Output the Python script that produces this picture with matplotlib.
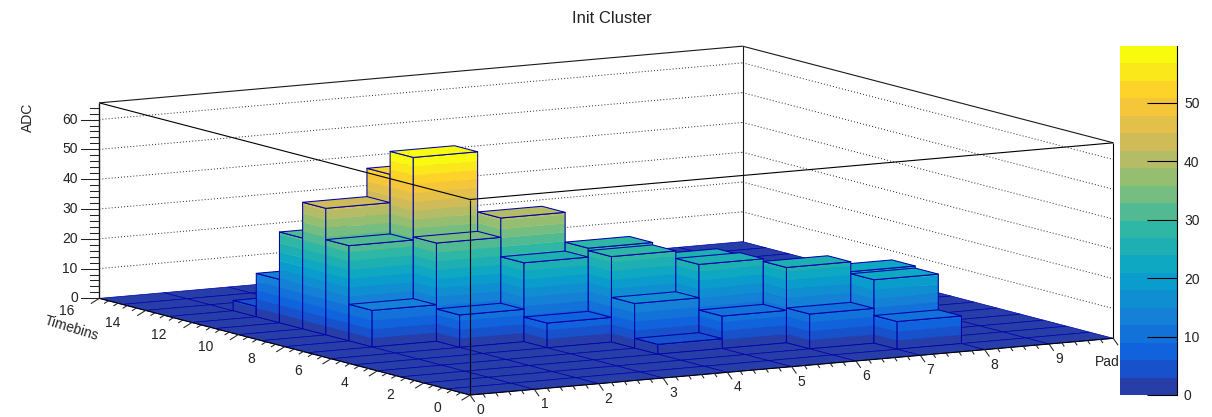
"""Init Cluster: ROOT style lego2 plot, drawn with a fixed parallel projection."""

import matplotlib
matplotlib.use("Agg")
import matplotlib.pyplot as plt
from matplotlib.collections import PolyCollection
from matplotlib.colors import LinearSegmentedColormap

plt.rcParams["font.family"] = ["Liberation Sans", "DejaVu Sans"]

# ---------------------------------------------------------------------------
# Data: only non-empty bins, everything else is 0
# ---------------------------------------------------------------------------

N_PADS = 10
N_TIMEBINS = 16

bin_pad = [1, 1, 1, 1, 1, 1, 2, 2, 2, 2, 3, 3, 3, 4, 4, 4, 4, 5, 5, 5, 6, 6, 7, 7, 7]
bin_tb  = [7, 8, 9, 10, 11, 12, 6, 7, 8, 9, 5, 6, 7, 3, 4, 5, 6, 3, 4, 5, 2, 3, 1, 2, 3]
bin_adc = [12.3, 32, 42.5, 30.5, 14.6, 3.5, 10.9, 33, 59.7, 52, 8.3, 26.5, 39.5,
           3.3, 15, 28.7, 29.5, 10.9, 26.2, 25.5, 11.7, 25.3, 9.3, 21.3, 22]

z_max = 59.7
n_levels = 20
z_top = 65.6

pad_ticks = [0, 1, 2, 3, 4, 5, 6, 7, 8, 9]
tb_ticks = [0, 2, 4, 6, 8, 10, 12, 14, 16]
z_ticks = [0, 10, 20, 30, 40, 50, 60]
cbar_ticks = [0, 10, 20, 30, 40, 50]

# kBird palette stops
bird = [(0.2082, 0.1664, 0.5293), (0.0592, 0.3599, 0.8684), (0.0780, 0.5041, 0.8385),
        (0.0232, 0.6419, 0.7914), (0.1802, 0.7178, 0.6425), (0.5301, 0.7492, 0.4662),
        (0.8186, 0.7328, 0.3499), (0.9956, 0.7862, 0.1968), (0.9764, 0.9832, 0.0539)]
cmap = LinearSegmentedColormap.from_list("bird", bird)
level_colors = [cmap((i + 0.99) / n_levels) for i in range(n_levels)]
level_step = z_max / n_levels

EDGE = "#0000a8"
AXIS = "#1a1a1a"
TEXT = "#222222"
FONT = 10

# ---------------------------------------------------------------------------
# Projection: pad, timebin, ADC to figure pixels
# ---------------------------------------------------------------------------

def proj(p, t, z=0.0):
    return (470.0 + 64.33 * p - 23.17 * t, 395.0 - 5.67 * p - 6.04 * t - 2.98 * z)

fig = plt.figure(figsize=(12.12, 4.17), dpi=100)
ax = fig.add_axes([0, 0, 1, 1])
ax.set_xlim(0, 1212)
ax.set_ylim(417, 0)
ax.axis("off")

# ---------------------------------------------------------------------------
# Back walls with dotted grid
# ---------------------------------------------------------------------------

def line3d(a, b, **kw):
    pa, pb = proj(*a), proj(*b)
    ax.plot([pa[0], pb[0]], [pa[1], pb[1]], solid_capstyle="butt", **kw)

back_kw = dict(color=AXIS, lw=0.8, zorder=1)
line3d((0, 16, z_top), (10, 16, z_top), **back_kw)
line3d((10, 16, z_top), (10, 0, z_top), **back_kw)
line3d((10, 16, 0), (10, 16, z_top), **back_kw)
for z in z_ticks[1:]:
    dot_kw = dict(color="#222222", lw=0.7, ls=(0, (1, 2.2)), zorder=1)
    line3d((0, 16, z), (10, 16, z), **dot_kw)
    line3d((10, 16, z), (10, 0, z), **dot_kw)

# ---------------------------------------------------------------------------
# Bars, painted from the back to the front
# ---------------------------------------------------------------------------

heights = {(p, t): a for p, t, a in zip(bin_pad, bin_tb, bin_adc)}
verts, faces, edges, widths = [], [], [], []

def add_poly(points, face, edge, lw):
    verts.append([proj(*pt) for pt in points])
    faces.append(face)
    edges.append(edge)
    widths.append(lw)

def add_side(a, b, h):
    # one side wall, split into the colour bands of the palette
    lvl = 0
    while lvl * level_step < h:
        z0 = lvl * level_step
        z1 = min(h, z0 + level_step)
        col = level_colors[min(lvl, n_levels - 1)]
        add_poly([(*a, z0), (*b, z0), (*b, z1), (*a, z1)], col, col, 0.3)
        lvl += 1
    add_poly([(*a, 0), (*b, 0), (*b, h), (*a, h)], "none", EDGE, 0.75)

for t in range(N_TIMEBINS - 1, -1, -1):
    for p in range(N_PADS - 1, -1, -1):
        h = heights.get((p, t), 0)
        if h > 0:
            add_side((p, t + 1), (p, t), h)
            add_side((p, t), (p + 1, t), h)
        top = level_colors[min(int(h / level_step), n_levels - 1)]
        add_poly([(p, t, h), (p + 1, t, h), (p + 1, t + 1, h), (p, t + 1, h)],
                 top, EDGE, 0.75 if h > 0 else 0.5)

ax.add_collection(PolyCollection(verts, facecolors=faces, edgecolors=edges,
                                 linewidths=widths, zorder=2, closed=True))

# ---------------------------------------------------------------------------
# Front box lines and axes
# ---------------------------------------------------------------------------

front_kw = dict(color="black", lw=0.8, zorder=3)
line3d((0, 16, z_top), (0, 0, z_top), **front_kw)
line3d((0, 0, z_top), (10, 0, z_top), **front_kw)
line3d((0, 0, 0), (0, 0, z_top), **front_kw)
line3d((10, 0, 0), (10, 0, z_top), **front_kw)
line3d((0, 16, 0), (0, 16, z_top), color=AXIS, lw=1.0, zorder=3)
line3d((0, 0, 0), (0, 16, 0), **front_kw)
line3d((0, 0, 0), (10, 0, 0), **front_kw)

tick_kw = dict(color="#222222", lw=0.75, zorder=3)

# ADC axis
for i in range(0, 33):
    x, y = proj(0, 16, i * 2)
    size = 18 if i % 5 == 0 else 9
    ax.plot([x - size, x], [y, y], **tick_kw)
for z in z_ticks:
    x, y = proj(0, 16, z)
    ax.text(x - 21.5, y, str(z), ha="right", va="center", fontsize=FONT, color=TEXT)

# timebin axis
for i in range(0, 41):
    x, y = proj(0, i * 0.4)
    dx, dy = (-8, 5) if i % 5 == 0 else (-4, 2.5)
    ax.plot([x, x + dx], [y, y + dy], **tick_kw)
for t in tb_ticks:
    x, y = proj(0, t)
    ax.text(x - 33, y + 12.5, str(t), ha="center", va="center", fontsize=FONT, color=TEXT)

# pad axis
for i in range(0, 51):
    x, y = proj(i * 0.2, 0)
    dx, dy = (4.5, 6.5) if i % 5 == 0 else (2.2, 3.2)
    ax.plot([x, x + dx], [y, y + dy], **tick_kw)
for p in pad_ticks:
    x, y = proj(p, 0)
    ax.text(x + 10, y + 15, str(p), ha="center", va="center", fontsize=FONT, color=TEXT)

ax.text(1120, 361.5, "Pad", ha="right", va="center", fontsize=FONT, color=TEXT, zorder=1)
ax.text(72, 328.5, "Timebins", ha="center", va="center", rotation=-17, fontsize=FONT, color=TEXT)
ax.text(28, 117, "ADC", ha="center", va="center", rotation=90, fontsize=FONT, color=TEXT)
ax.text(612, 18, "Init Cluster", ha="center", va="center", fontsize=12, color=TEXT)

# ---------------------------------------------------------------------------
# Colour bar
# ---------------------------------------------------------------------------

cax = fig.add_axes([1119.5 / 1212, 1 - 395 / 417, 57.5 / 1212, 349 / 417])
cax.bar([0] * n_levels, [level_step] * n_levels, width=1,
        bottom=[i * level_step for i in range(n_levels)], color=level_colors, linewidth=0)
cax.set_xlim(-0.5, 0.5)
cax.set_ylim(0, z_max)
cax.set_xticks([])
cax.set_yticks(cbar_ticks)
cax.yaxis.tick_right()
cax.tick_params(axis="y", direction="in", length=21.6, width=0.8, pad=5,
                labelsize=FONT, labelcolor=TEXT)
for side in ["left", "top", "bottom"]:
    cax.spines[side].set_visible(False)
cax.spines["right"].set_linewidth(0.8)

fig.savefig("out.png", dpi=100)
